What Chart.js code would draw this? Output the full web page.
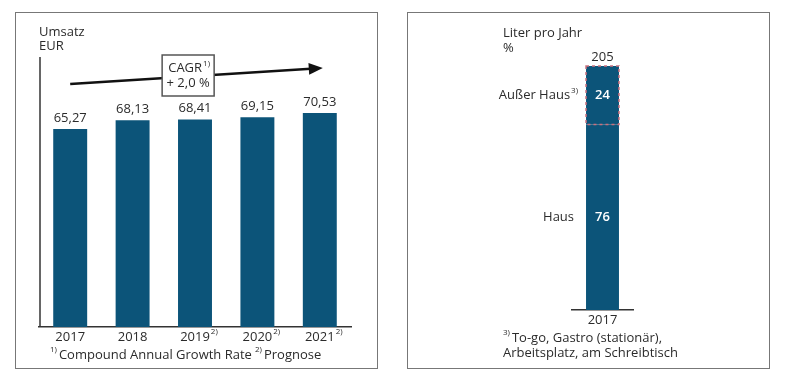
<!DOCTYPE html>
<html>
<head>
<meta charset="utf-8">
<script src="https://cdn.jsdelivr.net/npm/chart.js@4"></script>
<style>
	body { margin: 0; background: #fff; width: 790px; height: 375px; position: relative; overflow: hidden; }
	.panel { position: absolute; border: 1.5px solid #777; box-sizing: border-box; }
	#p1 { left: 15px; top: 12px; width: 363px; height: 357px; }
	#p2 { left: 407px; top: 12px; width: 363px; height: 357px; }
	canvas { position: absolute; }
	#c1 { left: 16px; top: 13px; }
	#c2 { left: 408px; top: 13px; }
</style>
</head>
<body>
<div class="panel" id="p1"></div>
<div class="panel" id="p2"></div>
<canvas id="c1" width="360" height="354"></canvas>
<canvas id="c2" width="360" height="354"></canvas>
<script>
// left chart: Umsatz in EUR
const years = ["2017", "2018", "2019", "2020", "2021"]
const yearNotes = ["", "", "2)", "2)", "2)"]
const umsatz = [65.27, 68.13, 68.41, 69.15, 70.53]
const cagrText = "+ 2,0 %"

// right chart: Liter pro Jahr, split in %
const shareYears = ["2017"]
const haus = [76]
const ausserHaus = [24]
const literProJahr = 205

const FONT = '"Open Sans", "Noto Sans", sans-serif'
const TEXT = "#2b2b2b"
const BAR = "#0c5479"

function font(size, weight) {
	return (weight || "normal") + " " + size + "px " + FONT
}

function fmt(v) {
	return v.toFixed(2).replace(".", ",")
}

// text with a small raised note after it
function textSup(ctx, str, sup, x, y, align) {
	ctx.font = font(13)
	const w = ctx.measureText(str).width
	ctx.font = font(8)
	const sw = sup ? ctx.measureText(sup).width + 1 : 0
	let start = x
	if (align === "center") start = x - w / 2
	if (align === "right") start = x - w - sw
	ctx.textAlign = "left"
	ctx.textBaseline = "middle"
	ctx.font = font(13)
	ctx.fillText(str, start, y)
	if (sup) {
		ctx.font = font(8)
		ctx.fillText(sup, start + w + 1, y - 5)
	}
}

// small raised note in front of a text
function supText(ctx, sup, str, x, y) {
	ctx.textAlign = "left"
	ctx.textBaseline = "middle"
	ctx.font = font(8)
	ctx.fillText(sup, x, y - 5)
	const sw = ctx.measureText(sup).width
	ctx.font = font(13)
	ctx.fillText(str, x + sw + 2, y)
}

const umsatzPlugin = {
	id: "umsatzDeco",
	afterDraw(chart) {
		const ctx = chart.ctx
		const area = chart.chartArea
		const bars = chart.getDatasetMeta(0).data
		ctx.save()
		ctx.fillStyle = TEXT
		ctx.strokeStyle = "#333"

		// y axis line
		ctx.lineWidth = 1.5
		ctx.beginPath()
		ctx.moveTo(area.left + 1, area.top)
		ctx.lineTo(area.left + 1, area.bottom)
		ctx.stroke()

		// axis title
		textSup(ctx, "Umsatz", "", area.left, 19, "left")
		textSup(ctx, "EUR", "", area.left, 33, "left")

		// values over the bars
		bars.forEach((bar, i) => {
			textSup(ctx, fmt(umsatz[i]), "", bar.x, bar.y - 11, "center")
		})

		// year labels
		bars.forEach((bar, i) => {
			textSup(ctx, years[i], yearNotes[i], bar.x, area.bottom + 10, "center")
		})

		// CAGR arrow
		const x0 = bars[0].x
		const y0 = area.top + 27
		const x1 = bars[bars.length - 1].x + 3
		const y1 = area.top + 11
		const ang = Math.atan2(y1 - y0, x1 - x0)
		ctx.strokeStyle = "#111"
		ctx.fillStyle = "#111"
		ctx.lineWidth = 2.5
		ctx.beginPath()
		ctx.moveTo(x0, y0)
		ctx.lineTo(x1 - 12 * Math.cos(ang), y1 - 12 * Math.sin(ang))
		ctx.stroke()
		ctx.beginPath()
		ctx.moveTo(x1, y1)
		ctx.lineTo(x1 - 14 * Math.cos(ang) + 6 * Math.sin(ang), y1 - 14 * Math.sin(ang) - 6 * Math.cos(ang))
		ctx.lineTo(x1 - 14 * Math.cos(ang) - 6 * Math.sin(ang), y1 - 14 * Math.sin(ang) + 6 * Math.cos(ang))
		ctx.closePath()
		ctx.fill()

		// CAGR box
		const bx = area.left + (area.right - area.left) * 0.478
		const by = area.top + 18.5
		ctx.fillStyle = "#fff"
		ctx.fillRect(bx - 26, by - 20.5, 52, 41)
		ctx.strokeStyle = "#555"
		ctx.lineWidth = 1.5
		ctx.strokeRect(bx - 26, by - 20.5, 52, 41)
		ctx.fillStyle = TEXT
		ctx.font = font(13)
		const cw = ctx.measureText("CAGR").width
		textSup(ctx, "CAGR", "1)", bx - cw / 2 - 3, by - 7, "left")
		textSup(ctx, cagrText, "", bx, by + 8, "center")

		// footnotes
		supText(ctx, "1)", "Compound Annual Growth Rate", area.left + 11, area.bottom + 28)
		supText(ctx, "2)", "Prognose", area.left + 216, area.bottom + 28)
		ctx.restore()
	},
}

const shareLabels = ["Haus", "Außer Haus"]
const shareNotes = ["", "3)"]

const sharePlugin = {
	id: "shareDeco",
	afterDraw(chart) {
		const ctx = chart.ctx
		const area = chart.chartArea
		ctx.save()
		ctx.fillStyle = TEXT

		textSup(ctx, "Liter pro Jahr", "", 95, 20, "left")
		textSup(ctx, "%", "", 95, 35, "left")

		const top = chart.getDatasetMeta(1).data[0]
		textSup(ctx, String(literProJahr), "", top.x, top.y - 9, "center")

		// dashed outline of the out-of-home part
		ctx.strokeStyle = "#c9707e"
		ctx.lineWidth = 1.5
		ctx.setLineDash([3, 3])
		ctx.strokeRect(top.x - top.width / 2, top.y, top.width, top.base - top.y)
		ctx.setLineDash([])

		chart.data.datasets.forEach((ds, i) => {
			const el = chart.getDatasetMeta(i).data[0]
			const mid = (el.y + el.base) / 2
			ctx.fillStyle = "#fff"
			ctx.font = font(13, "600")
			ctx.textAlign = "center"
			ctx.textBaseline = "middle"
			ctx.fillText(String(ds.data[0]), el.x, mid)
			ctx.fillStyle = TEXT
			textSup(ctx, shareLabels[i], shareNotes[i], el.x - el.width / 2 - (i === 0 ? 12 : 8), mid, "right")
		})

		shareYears.forEach((y, i) => {
			const x = chart.scales.x.getPixelForValue(i)
			textSup(ctx, y, "", x, area.bottom + 10, "center")
		})

		supText(ctx, "3)", "To-go, Gastro (stationär),", 95, area.bottom + 28)
		textSup(ctx, "Arbeitsplatz, am Schreibtisch", "", 95, area.bottom + 43, "left")
		ctx.restore()
	},
}

function xAxis(height) {
	return {
		grid: { display: false },
		ticks: { display: false },
		border: { display: true, color: "#333", width: 1.5 },
		afterFit: (scale) => {
			scale.height = height
		},
	}
}

new Chart(document.getElementById("c1"), {
	type: "bar",
	data: {
		labels: years,
		datasets: [
			{
				label: "Umsatz",
				data: umsatz,
				backgroundColor: BAR,
				borderWidth: 0,
				barPercentage: 0.544,
				categoryPercentage: 1,
			},
		],
	},
	options: {
		responsive: false,
		animation: false,
		layout: { padding: { left: 23, right: 25, top: 44, bottom: 0 } },
		plugins: { legend: { display: false }, tooltip: { enabled: false } },
		scales: {
			x: xAxis(40),
			y: { display: false, min: 0, max: 89 },
		},
	},
	plugins: [umsatzPlugin],
})

new Chart(document.getElementById("c2"), {
	type: "bar",
	data: {
		labels: shareYears,
		datasets: [
			{ label: "Haus", data: haus, backgroundColor: BAR, borderWidth: 0, barPercentage: 0.54, categoryPercentage: 1 },
			{ label: "Außer Haus", data: ausserHaus, backgroundColor: BAR, borderWidth: 0, barPercentage: 0.54, categoryPercentage: 1 },
		],
	},
	options: {
		responsive: false,
		animation: false,
		layout: { padding: { left: 164, right: 135, top: 53, bottom: 0 } },
		plugins: { legend: { display: false }, tooltip: { enabled: false } },
		scales: {
			x: { ...xAxis(57), stacked: true },
			y: { display: false, stacked: true, min: 0, max: 100 },
		},
	},
	plugins: [sharePlugin],
})
</script>
</body>
</html>
